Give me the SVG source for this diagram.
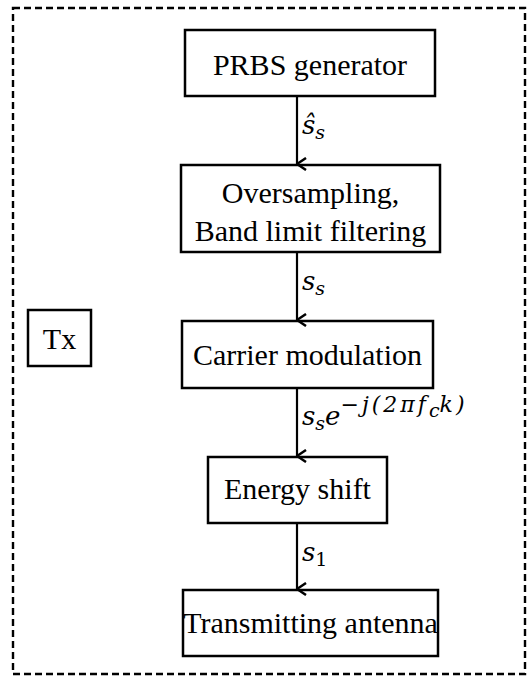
<svg xmlns="http://www.w3.org/2000/svg" width="529" height="677" viewBox="0 0 529 677">
  <style>
    .box { fill: #fff; stroke: #000; stroke-width: 2.5; }
    .lbl { font-family: "Liberation Serif", "Times New Roman", serif; font-size: 30px; fill: #000; text-anchor: middle; }
    .math { font-family: "DejaVu Serif", "Liberation Serif", serif; font-style: italic; font-size: 26px; fill: #000; }
    .sub { font-size: 19px; }
    .sup { font-size: 22px; letter-spacing: 3px; }
    .wire { stroke: #000; stroke-width: 2.2; fill: none; marker-end: url(#chev); }
  </style>
  <defs>
    <marker id="chev" viewBox="0 0 14 12" refX="7" refY="11" markerWidth="14" markerHeight="12" markerUnits="userSpaceOnUse" orient="auto-start-reverse">
      <path d="M1,2 L7,11 L13,2" fill="none" stroke="#000" stroke-width="2.5"/>
    </marker>
  </defs>

  <!-- transmitter frame -->
  <rect x="13" y="8" width="512" height="666" fill="none" stroke="#000" stroke-width="2.4" stroke-dasharray="7,4"/>

  <g id="tx">
    <rect class="box" x="28" y="310" width="63" height="56"/>
    <text class="lbl" x="59.5" y="349" font-size="33">Tx</text>
  </g>

  <g id="prbs">
    <rect class="box" x="185" y="30" width="250" height="66"/>
    <text class="lbl" x="310" y="75" font-size="35">PRBS generator</text>
  </g>

  <g id="oversampling">
    <rect class="box" x="181" y="165" width="259" height="87"/>
    <text class="lbl" x="310.5" y="203" font-size="33">Oversampling,</text>
    <text class="lbl" x="310.5" y="241" font-size="33">Band limit filtering</text>
  </g>

  <g id="carrier">
    <rect class="box" x="182" y="321" width="251" height="67"/>
    <text class="lbl" x="307.5" y="365">Carrier modulation</text>
  </g>

  <g id="energy">
    <rect class="box" x="208" y="457" width="179" height="66"/>
    <text class="lbl" x="297.5" y="499" font-size="26">Energy shift</text>
  </g>

  <g id="antenna">
    <rect class="box" x="183" y="590" width="255" height="66"/>
    <text class="lbl" x="310.5" y="633" font-size="26">Transmitting antenna</text>
  </g>

  <g id="connectors">
    <line class="wire" x1="297" y1="96" x2="297" y2="164"/>
    <line class="wire" x1="297" y1="252" x2="297" y2="320"/>
    <line class="wire" x1="297" y1="388" x2="297" y2="456"/>
    <line class="wire" x1="297" y1="523" x2="297" y2="589"/>

    <text class="math" x="302" y="134">ŝ<tspan class="sub" dy="5">s</tspan></text>
    <text class="math" x="302" y="290">s<tspan class="sub" dy="5">s</tspan></text>
    <text class="math" x="302" y="425">s<tspan class="sub" dy="5">s</tspan><tspan dy="-5">e</tspan><tspan class="sup" dy="-13">−j(2πf</tspan><tspan class="sub" font-size="15" dy="5">c</tspan><tspan class="sup" dy="-5">k)</tspan></text>
    <text class="math" x="302" y="561">s<tspan class="sub" dy="5" font-style="normal">1</tspan></text>
  </g>
</svg>
